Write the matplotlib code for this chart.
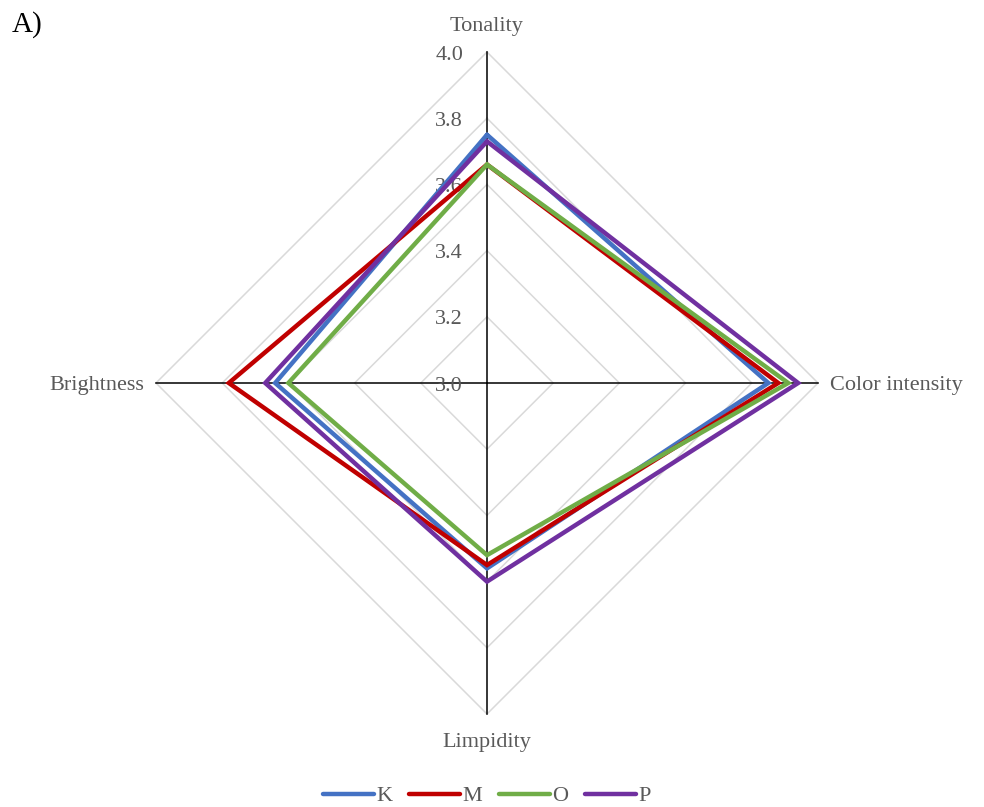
"""Radar chart of sensory colour attributes (panel A)."""
import matplotlib
matplotlib.use("Agg")
import matplotlib.pyplot as plt
import numpy as np

# axes clockwise from the top
categories = ["Tonality", "Color intensity", "Limpidity", "Brightness"]
series_names = ["K", "M", "O", "P"]
K = [3.75, 3.85, 3.56, 3.64]
M = [3.66, 3.88, 3.55, 3.78]
O = [3.66, 3.91, 3.52, 3.60]
P = [3.73, 3.94, 3.60, 3.67]
ticks = [3.0, 3.2, 3.4, 3.6, 3.8, 4.0]

colors = ["#4472C4", "#C00000", "#70AD47", "#7030A0"]
R_MIN, R_MAX = 3.0, 4.0
GREY = "#595959"

plt.rcParams.update({
    "font.family": ["Liberation Serif", "DejaVu Serif"],
    "font.size": 16,
})

angles = np.pi / 2 - np.arange(len(categories)) * 2 * np.pi / len(categories)


def to_xy(vals):
    r = (np.asarray(vals, dtype=float) - R_MIN) / (R_MAX - R_MIN)
    return r * np.cos(angles), r * np.sin(angles)


fig = plt.figure(figsize=(9.84, 8.07), dpi=100)
ax = fig.add_axes([0, 0, 1, 1])
scale = 331.0  # pixels per unit radius
cx, cy = 487.0, 383.0
ax.set_xlim(-cx / scale, (984 - cx) / scale)
ax.set_ylim(-(807 - cy) / scale, cy / scale)
ax.set_aspect("equal")
ax.axis("off")

# diamond grid
for t in ticks[1:]:
    x, y = to_xy([t] * len(categories))
    ax.plot(np.append(x, x[0]), np.append(y, y[0]), color="#D9D9D9",
            lw=1.1, zorder=1)

# spokes
for a in angles:
    ax.plot([0, np.cos(a)], [0, np.sin(a)], color="black", lw=1.1, zorder=2)

# radial tick labels along the upward spoke
for t in ticks:
    r = (t - R_MIN) / (R_MAX - R_MIN)
    ax.text(-24 / scale, r - 3 / scale, f"{t:.1f}", ha="right", va="center",
            color=GREY, fontsize=16, zorder=3)

# category labels
ax.text(0, (cy - 26) / scale, categories[0], ha="center", va="center",
        color=GREY, fontsize=16)
ax.text(1 + 12 / scale, -2 / scale, categories[1], ha="left", va="center",
        color=GREY, fontsize=16)
ax.text(0, -(742 - cy) / scale, categories[2], ha="center", va="center",
        color=GREY, fontsize=16)
ax.text(-1 - 12 / scale, -2 / scale, categories[3], ha="right", va="center",
        color=GREY, fontsize=16)

for name, vals, c in zip(series_names, [K, M, O, P], colors):
    x, y = to_xy(vals)
    ax.plot(np.append(x, x[0]), np.append(y, y[0]), color=c, lw=3.2,
            solid_joinstyle="miter", solid_capstyle="round", label=name,
            zorder=4)

leg = fig.legend(loc="center", bbox_to_anchor=(487 / 984, 1 - 796 / 807),
                 ncol=4, frameon=False, handlelength=2.3, handletextpad=0.1,
                 columnspacing=0.75, fontsize=16, labelcolor=GREY)
for h in leg.legend_handles:
    h.set_solid_capstyle("round")

fig.text(12 / 984, 1 - 25 / 807, "A)", ha="left", va="center", fontsize=21,
         color="black")

fig.savefig("out.png", dpi=100)
